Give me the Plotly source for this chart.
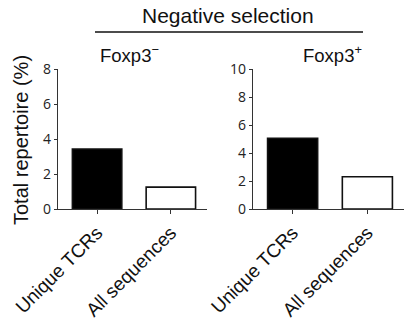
import plotly.graph_objects as go

categories = ["Unique TCRs", "All sequences"]
foxp3_neg = [3.43, 1.25]
foxp3_pos = [5.05, 2.3]
bar_colors = ["black", "white"]
left_ticks = [0, 2, 4, 6, 8]
right_ticks = [0, 2, 4, 6, 8, 10]

W, H = 404, 322
fig = go.Figure()
fig.add_trace(go.Bar(x=categories, y=foxp3_neg, marker=dict(color=bar_colors, line=dict(color="#111", width=1.6)),
                     width=0.67, xaxis="x", yaxis="y", showlegend=False))
fig.add_trace(go.Bar(x=categories, y=foxp3_pos, marker=dict(color=bar_colors, line=dict(color="#111", width=1.6)),
                     width=0.67, xaxis="x2", yaxis="y2", showlegend=False))

ydom = [1 - 209 / H, 1 - 69 / H]
tickfont = dict(family="Open Sans", size=14, color="#222")
catfont = dict(family="Liberation Sans, Arial", size=19, color="#111")
common_x = dict(type="category", range=[-0.53, 1.49], showline=True, linecolor="#333", linewidth=1.3,
                ticks="outside", ticklen=4, tickcolor="#333", tickangle=-45, tickfont=catfont,
                showgrid=False, zeroline=False, fixedrange=True, automargin=False)
common_y = dict(showline=True, linecolor="#333", linewidth=1.3, ticks="outside", ticklen=3, tickcolor="#333",
                tickfont=tickfont, showgrid=False, zeroline=False, domain=ydom, automargin=False)

fig.update_layout(
    width=W, height=H, margin=dict(l=0, r=0, t=0, b=0, pad=0, autoexpand=False),
    paper_bgcolor="white", plot_bgcolor="white", bargap=0.33,
    xaxis=dict(domain=[58 / W, 207 / W], anchor="y", **common_x),
    xaxis2=dict(domain=[253 / W, 1.0], anchor="y2", **common_x),
    yaxis=dict(range=[0, 8], tickvals=left_ticks, anchor="x", **common_y),
    yaxis2=dict(range=[0, 10], tickvals=right_ticks, anchor="x2", **common_y),
)

annfont = dict(family="Liberation Sans, Arial", size=21, color="#111")
fig.add_annotation(text="Negative selection", xref="paper", yref="paper", x=228 / W, y=1 - 15 / H,
                   showarrow=False, font=annfont, xanchor="center", yanchor="middle")
fig.add_shape(type="line", xref="paper", yref="paper", x0=95 / W, x1=363 / W, y0=1 - 32 / H, y1=1 - 32 / H,
              line=dict(color="#111", width=1.5))
fig.add_annotation(text="Foxp3<sup>−</sup>", xref="paper", yref="paper", x=98 / W, y=1 - 54 / H,
                   showarrow=False, font=dict(family="Liberation Sans, Arial", size=18.5, color="#111"),
                   xanchor="left", yanchor="middle")
fig.add_annotation(text="Foxp3<sup>+</sup>", xref="paper", yref="paper", x=364 / W, y=1 - 54 / H,
                   showarrow=False, font=dict(family="Liberation Sans, Arial", size=18.5, color="#111"),
                   xanchor="right", yanchor="middle")
fig.add_annotation(text="Total repertoire (%)", xref="paper", yref="paper", x=21 / W, y=1 - 140 / H,
                   showarrow=False, textangle=-90, font=dict(family="Liberation Sans, Arial", size=20, color="#111"),
                   xanchor="center", yanchor="middle")

fig.write_html("out.html", config={"displayModeBar": False},
               post_script="document.body.style.margin='0';")
